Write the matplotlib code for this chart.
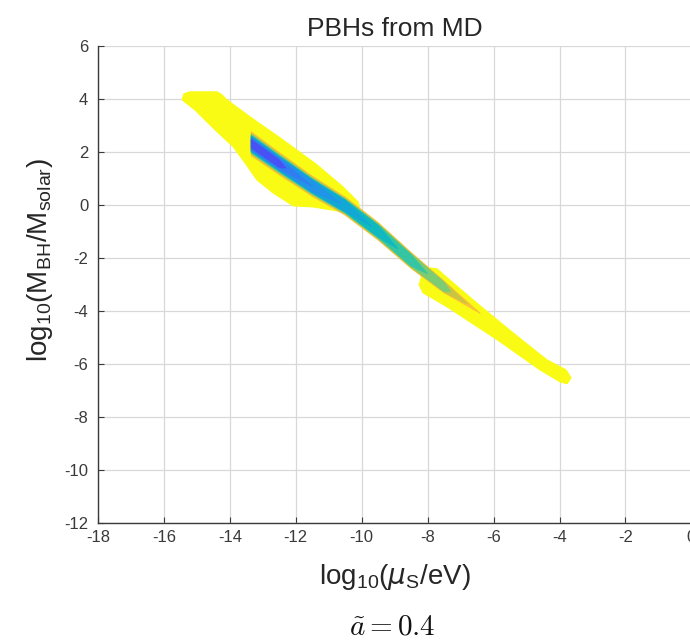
import numpy as np
import matplotlib
matplotlib.use("Agg")
import matplotlib.pyplot as plt
from matplotlib.colors import LinearSegmentedColormap

# parula-like colormap (MATLAB default)
parula_hex = ['#3e26a8', '#4852f4', '#2a87f2', '#199fdf', '#08b5c7', '#33c5a3',
              '#7bcc73', '#c7c541', '#fabb3b', '#f4db27', '#f9fb14']
parula = LinearSegmentedColormap.from_list('parula', parula_hex)

# saturated (yellow) regions, outlines
blob1_x = [-15.45, -15.39, -15.21, -14.39, -14.24, -14.09, -13.39, -12.39, -11.36,
           -10.57, -10.11, -10.05, -10.20, -11.48, -12.08, -12.69, -13.18, -13.54,
           -13.90, -14.45, -15.06]
blob1_y = [3.96, 4.19, 4.26, 4.26, 4.15, 3.96, 3.32, 2.45, 1.51,
           0.68, 0.11, -0.19, -0.34, -0.08, -0.04, 0.45, 0.94, 1.58,
           2.19, 2.83, 3.58]
blob2_x = [-7.71, -7.93, -8.17, -8.26, -8.14, -7.41, -5.89, -4.59, -3.98, -3.77,
           -3.65, -3.80, -4.38, -5.41, -6.41, -7.41]
blob2_y = [-2.42, -2.38, -2.64, -3.02, -3.32, -3.85, -5.09, -6.23, -6.68, -6.75,
           -6.53, -6.23, -5.85, -4.83, -3.81, -2.75]

# narrow band: centre line and vertical half thickness
band_x = [-13.35, -12.5, -11.5, -10.5, -9.5, -8.5, -7.5, -6.4]
band_y = [2.30, 1.55, 0.70, -0.05, -1.00, -2.10, -3.10, -4.10]
band_h = [0.45, 0.42, 0.38, 0.34, 0.33, 0.30, 0.22, 0.03]

# colour levels inside the band: value, relative thickness, where it ends
level_val = [0.82, 0.70, 0.60, 0.50, 0.42, 0.34, 0.26, 0.18, 0.10]
level_frac = [1.00, 0.88, 0.80, 0.72, 0.66, 0.62, 0.56, 0.48, 0.34]
level_xend = [-6.4, -6.8, -7.3, -8.0, -8.9, -9.7, -10.6, -11.5, -12.3]

xticks = np.arange(-18, 1, 2)
yticks = np.arange(-12, 7, 2)

plt.rcParams['font.family'] = ['Liberation Sans', 'DejaVu Sans']
plt.rcParams['axes.unicode_minus'] = False

fig = plt.figure(figsize=(6.9, 6.44), dpi=100)
ax = fig.add_axes([0.142, 0.188, 0.860, 0.741])

yellow = parula(1.0)
ax.fill(blob1_x, blob1_y, color=yellow, lw=0.8, ec=yellow, zorder=2)
ax.fill(blob2_x, blob2_y, color=yellow, lw=0.8, ec=yellow, zorder=2)

bx = np.array(band_x)
by = np.array(band_y)
bh = np.array(band_h)
for v, fr, xe in zip(level_val, level_frac, level_xend):
    keep = bx < xe
    xs = bx[keep]
    ye = np.interp(xe, bx, by)
    top = by[keep] + fr * bh[keep]
    bot = by[keep] - fr * bh[keep]
    px = np.r_[xs, xe, xs[::-1]]
    py = np.r_[top, ye, bot[::-1]]
    ax.fill(px, py, color=parula(v), lw=0.6, ec=parula(v), zorder=3)

ax.set_xlim(-18, 0)
ax.set_ylim(-12, 6)
ax.set_xticks(xticks)
ax.set_yticks(yticks)
ax.grid(True, color='#d8d8d8', lw=0.9)
ax.set_axisbelow(True)
for s in ['top', 'right']:
    ax.spines[s].set_visible(False)
for s in ['left', 'bottom']:
    ax.spines[s].set_color('#3a3a3a')
    ax.spines[s].set_linewidth(1.0)
ax.tick_params(direction='in', length=4, width=0.8, colors='#3a3a3a',
               labelsize=12, pad=7)
ax.tick_params(axis='x', pad=5)

ax.set_title('PBHs from MD', fontsize=19, color='#262626', pad=7)
ax.set_xlabel(r'log$_{\mathregular{10}}$($\mu_{\mathregular{S}}$/eV)',
              fontsize=20, color='#262626', labelpad=12)
ax.set_ylabel(r'log$_{\mathregular{10}}$(M$_{\mathregular{BH}}$/M$_{\mathregular{solar}}$)',
              fontsize=20, color='#262626')
ax.yaxis.set_label_coords(-0.072, 0.55)
fig.text(0.568, 0.006, r'$\tilde{a} = 0.4$', fontsize=21, math_fontfamily='cm',
         ha='center', va='bottom', color='#111111')

fig.savefig('out.png', dpi=100)
